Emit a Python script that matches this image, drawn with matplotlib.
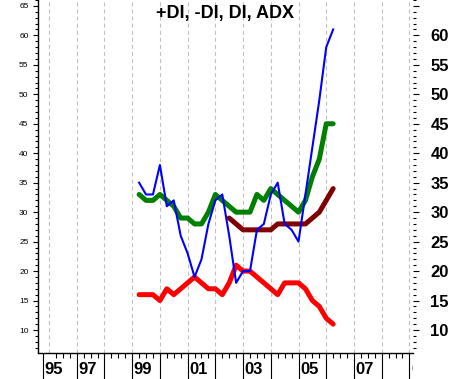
import numpy as np
import pandas as pd
import matplotlib
matplotlib.use('Agg')
import matplotlib.pyplot as plt
from matplotlib.transforms import Bbox, TransformedBbox, IdentityTransform

plt.rcParams['font.family'] = ['Liberation Sans', 'DejaVu Sans']
plt.rcParams['lines.scale_dashes'] = False

# quarterly samples 1999Q2 .. 2006Q2
quarters = pd.period_range('1999Q2', '2006Q2', freq='Q')
di = [35, 33, 33, 38, 31, 32, 26, 23, 19, 22, 28, 32, 33, 26, 18,
      20, 20, 27, 28, 33, 35, 28, 27, 25, 33, 41, 49, 58, 61]
plus_di = [33, 32, 32, 33, 32, 31, 29, 29, 28, 28, 30, 33, 32, 31, 30,
           30, 30, 33, 32, 34, 33, 32, 31, 30, 32, 36, 39, 45, 45]
minus_di = [16, 16, 16, 15, 17, 16, 17, 18, 19, 18, 17, 17, 16, 18, 21,
            20, 20, 19, 18, 17, 16, 18, 18, 18, 17, 15, 14, 12, 11]
adx = [np.nan] * 13 + [29, 28, 27, 27, 27, 27, 27, 28, 28, 28, 28, 28, 29, 30, 32, 34]

year_labels = ['95', '97', '99', '01', '03', '05', '07', '09']
label_pos = [1995.78, 1997, 1999, 2001, 2003, 2005, 2007, 2009]
grid_years = list(range(1996, 2010))

x = quarters.year + (quarters.quarter - 1) / 4

fig = plt.figure(figsize=(4.51, 3.79), dpi=100)
ax = fig.add_axes([37.7 / 451, 26 / 379, (413 - 37.7) / 451, 353 / 379])
ax.set_xlim(1995.592, 2009.13)
ax.set_ylim(6.1, 66.0)

for yr in grid_years:
    ax.axvline(yr, color='#c0c0c0', lw=0.8, ls=(0, (2.9, 2.2)), zorder=0)

ax.plot(x, minus_di, color='#ff0000', lw=3.6, solid_joinstyle='round', solid_capstyle='round')
ax.plot(x, plus_di, color='#008000', lw=3.6, solid_joinstyle='round', solid_capstyle='round')
ax.plot(x, adx, color='#800000', lw=3.6, solid_joinstyle='round', solid_capstyle='round')
ax.plot(x, di, color='#0000ff', lw=1.5)

ax.spines['top'].set_visible(False)
ax.spines['right'].set_visible(False)
ax.spines['left'].set_linewidth(1.0)
ax.spines['bottom'].set_linewidth(1.0)

# left axis: small labels
ax.set_yticks(range(10, 66, 5))
ax.set_yticks(range(7, 67), minor=True)
ax.tick_params(axis='y', which='major', direction='out', length=3.6, width=0.8,
               labelsize=6, pad=3)
ax.tick_params(axis='y', which='minor', direction='out', length=2, width=0.8)

# bottom axis: long year lines, short quarter ticks, labels drawn by hand
major_x = [1995.78] + list(range(1997, 2010))
minor_x = [q / 4 for q in range(7984, 8037) if q % 4 != 0]
ax.set_xticks(major_x)
ax.set_xticks(minor_x, minor=True)
ax.set_xticklabels([])
ax.tick_params(axis='x', which='major', direction='out', length=19, width=0.8)
ax.tick_params(axis='x', which='minor', direction='out', length=3.6, width=0.8)

clip = TransformedBbox(Bbox([[0, 0], [413, 379]]), IdentityTransform())
for pos, lab in zip(label_pos, year_labels):
    t = ax.annotate(lab, xy=(pos, 10), xycoords=('data', 'figure pixels'),
                    xytext=(1.2, 0), textcoords='offset points',
                    ha='left', va='center', fontsize=12, fontweight='bold',
                    annotation_clip=False)
    t.set_clip_on(True)
    t.set_clip_box(clip)

# right axis: big bold labels
ax2 = ax.twinx()
ax2.set_ylim(ax.get_ylim())
for s in ax2.spines.values():
    s.set_visible(False)
ax2.set_yticks(range(10, 66, 5))
ax2.set_yticklabels([str(v) if v <= 60 else '' for v in range(10, 66, 5)])
ax2.set_yticks(range(7, 67), minor=True)
ax2.tick_params(axis='y', which='major', direction='out', length=4.5, width=0.8,
                labelsize=12, pad=8)
ax2.tick_params(axis='y', which='minor', direction='out', length=2.5, width=0.8)
for lbl in ax2.get_yticklabels():
    lbl.set_fontweight('bold')

ax.text(0.5, 1 - 13.5 / 353, '+DI, -DI, DI, ADX', transform=ax.transAxes,
        ha='center', va='center', fontsize=13, fontweight='bold')

fig.savefig('out.png', dpi=100)
